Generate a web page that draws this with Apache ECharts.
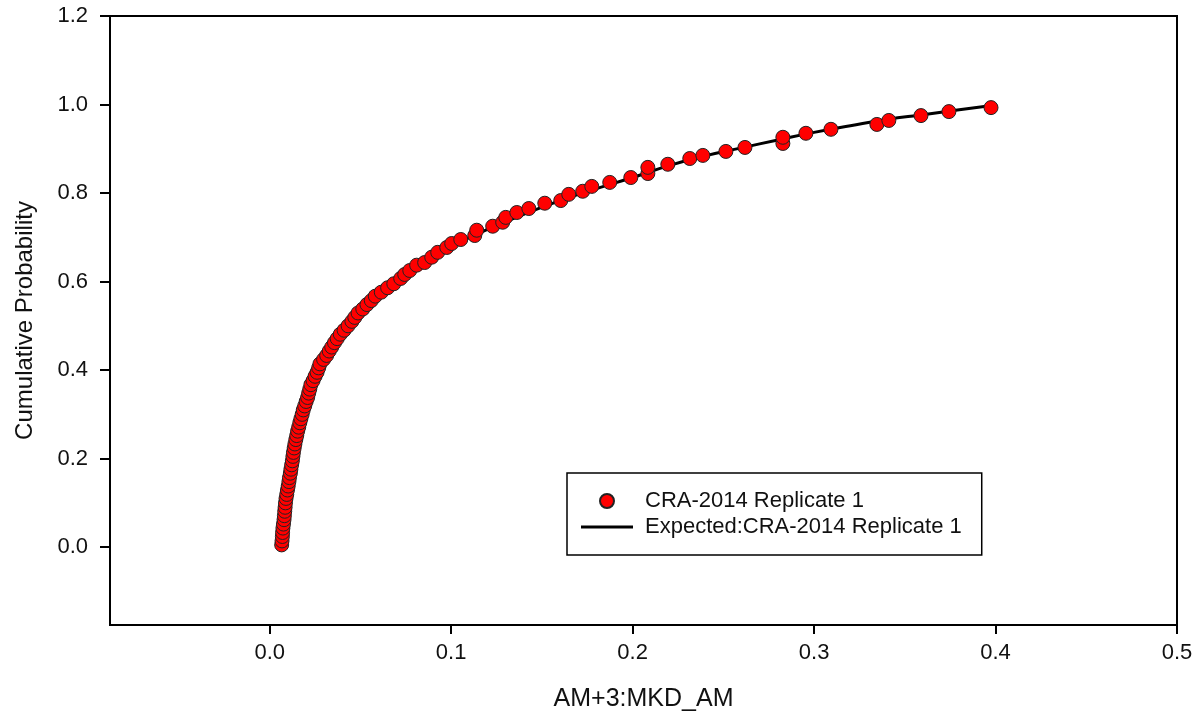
<!DOCTYPE html>
<html>
<head>
<meta charset="utf-8">
<title>Cumulative Probability</title>
<script src="https://cdn.jsdelivr.net/npm/echarts@6/dist/echarts.min.js"></script>
<style>
  html, body { margin: 0; padding: 0; background: #fff; }
  #chart { width: 1200px; height: 717px; }
</style>
</head>
<body>
<div id="chart"></div>
<script>
// observed values (AM+3:MKD_AM) and their cumulative probability
const obsX = [
  0.0066, 0.0068, 0.0070, 0.0071, 0.0073, 0.0076, 0.0079, 0.0081, 0.0083, 0.0085,
  0.0087, 0.0090, 0.0094, 0.0098, 0.0102, 0.0106, 0.0109, 0.0114, 0.0117, 0.0121,
  0.0125, 0.0128, 0.0131, 0.0135, 0.0139, 0.0144, 0.0149, 0.0154, 0.0160, 0.0166,
  0.0172, 0.0179, 0.0185, 0.0193, 0.0201, 0.0209, 0.0215, 0.0221, 0.0227, 0.0239,
  0.0250, 0.0261, 0.0270, 0.0277, 0.0297, 0.0314, 0.0328, 0.0342, 0.0357, 0.0372,
  0.0389, 0.0410, 0.0432, 0.0453, 0.0469, 0.0487, 0.0513, 0.0536, 0.0560, 0.0582,
  0.0615, 0.0650, 0.0684, 0.0722, 0.0744, 0.0772, 0.0810, 0.0854, 0.0893, 0.0926,
  0.0976, 0.1003, 0.1053, 0.1130, 0.1141, 0.1229, 0.1284, 0.1301, 0.1362, 0.1428,
  0.1516, 0.1604, 0.1648, 0.1725, 0.1775, 0.1874, 0.1990, 0.2084, 0.2084, 0.2194,
  0.2315, 0.2387, 0.2514, 0.2619, 0.2828, 0.2828, 0.2955, 0.3093, 0.3346, 0.3412,
  0.3589, 0.3743, 0.3975
];
const obsY = [
  0.005, 0.014, 0.024, 0.033, 0.043, 0.052, 0.062, 0.071, 0.081, 0.090,
  0.100, 0.110, 0.119, 0.129, 0.138, 0.148, 0.157, 0.167, 0.176, 0.186,
  0.195, 0.205, 0.214, 0.224, 0.233, 0.243, 0.252, 0.262, 0.271, 0.281,
  0.290, 0.300, 0.310, 0.319, 0.329, 0.338, 0.348, 0.357, 0.367, 0.376,
  0.386, 0.395, 0.405, 0.414, 0.424, 0.433, 0.443, 0.452, 0.462, 0.471,
  0.481, 0.490, 0.500, 0.510, 0.519, 0.529, 0.538, 0.548, 0.557, 0.567,
  0.576, 0.586, 0.595, 0.607, 0.616, 0.625, 0.637, 0.643, 0.655, 0.666,
  0.677, 0.686, 0.695, 0.704, 0.716, 0.725, 0.734, 0.745, 0.756, 0.765,
  0.777, 0.783, 0.797, 0.804, 0.815, 0.824, 0.835, 0.844, 0.858, 0.865,
  0.878, 0.885, 0.894, 0.903, 0.912, 0.926, 0.935, 0.944, 0.955, 0.964,
  0.975, 0.984, 0.993
];

// expected (fitted) curve
const expX = [0.006, 0.008, 0.011, 0.014, 0.018, 0.023, 0.030, 0.040, 0.050, 0.060,
  0.070, 0.080, 0.090, 0.100, 0.120, 0.140, 0.160, 0.180, 0.200, 0.220,
  0.240, 0.260, 0.280, 0.300, 0.320, 0.340, 0.360, 0.380, 0.398];
const expY = [0.005, 0.080, 0.160, 0.230, 0.300, 0.370, 0.430, 0.490, 0.530, 0.575,
  0.605, 0.635, 0.658, 0.680, 0.718, 0.752, 0.783, 0.810, 0.835, 0.862,
  0.884, 0.902, 0.920, 0.937, 0.952, 0.966, 0.977, 0.988, 0.998];

const xTicks = [0, 0.1, 0.2, 0.3, 0.4, 0.5];
const yTicks = [0, 0.2, 0.4, 0.6, 0.8, 1.0, 1.2];

const obsName = 'CRA-2014 Replicate 1';
const expName = 'Expected:CRA-2014 Replicate 1';

const font = "'Liberation Sans', Arial, sans-serif";

const chart = echarts.init(document.getElementById('chart'));

const option = {
  backgroundColor: '#fff',
  animation: false,
  grid: {
    left: 110,
    right: 23,
    top: 16,
    bottom: 92,
    show: true,
    borderColor: '#000',
    borderWidth: 2
  },
  legend: {
    left: 567,
    top: 473,
    orient: 'vertical',
    padding: [17, 20, 17, 14],
    itemGap: 4,
    itemWidth: 52,
    itemHeight: 14,
    borderColor: '#000',
    borderWidth: 1.5,
    textStyle: {
      color: '#111',
      fontSize: 22,
      fontFamily: font,
      padding: [0, 0, 0, 7]
    },
    data: [
      { name: obsName, icon: 'circle' },
      { name: expName, icon: 'path://M0,0H52V3H0Z' }
    ]
  },
  xAxis: {
    type: 'value',
    min: -0.088,
    max: 0.5,
    name: 'AM+3:MKD_AM',
    nameLocation: 'middle',
    nameGap: 62,
    nameTextStyle: { color: '#111', fontSize: 25, fontFamily: font },
    axisLine: { show: true, onZero: false, lineStyle: { color: '#000', width: 2 } },
    axisTick: { show: true, length: 9, lineStyle: { color: '#000', width: 2 }, customValues: xTicks },
    axisLabel: {
      color: '#111', fontSize: 22, fontFamily: font, margin: 17,
      customValues: xTicks,
      formatter: v => v.toFixed(1)
    },
    splitLine: { show: false }
  },
  yAxis: {
    type: 'value',
    min: -0.176,
    max: 1.2,
    name: 'Cumulative Probability',
    nameLocation: 'middle',
    nameGap: 73,
    nameTextStyle: { color: '#111', fontSize: 24, fontFamily: font },
    axisLine: { show: true, onZero: false, lineStyle: { color: '#000', width: 2 } },
    axisTick: { show: true, length: 10, lineStyle: { color: '#000', width: 2 }, customValues: yTicks },
    axisLabel: {
      color: '#111', fontSize: 22, fontFamily: font, margin: 22,
      customValues: yTicks,
      formatter: v => v.toFixed(1)
    },
    splitLine: { show: false }
  },
  series: [
    {
      name: expName,
      type: 'line',
      showSymbol: false,
      symbol: 'none',
      smooth: true,
      z: 2,
      lineStyle: { color: '#000', width: 3 },
      itemStyle: { color: '#000' },
      data: expX.map((x, i) => [x, expY[i]])
    },
    {
      name: obsName,
      type: 'scatter',
      symbol: 'circle',
      symbolSize: 14,
      z: 3,
      itemStyle: { color: '#f00', opacity: 1, borderColor: '#222', borderWidth: 1 },
      data: obsX.map((x, i) => [x, obsY[i]])
    }
  ]
};

chart.setOption(option);
</script>
</body>
</html>
